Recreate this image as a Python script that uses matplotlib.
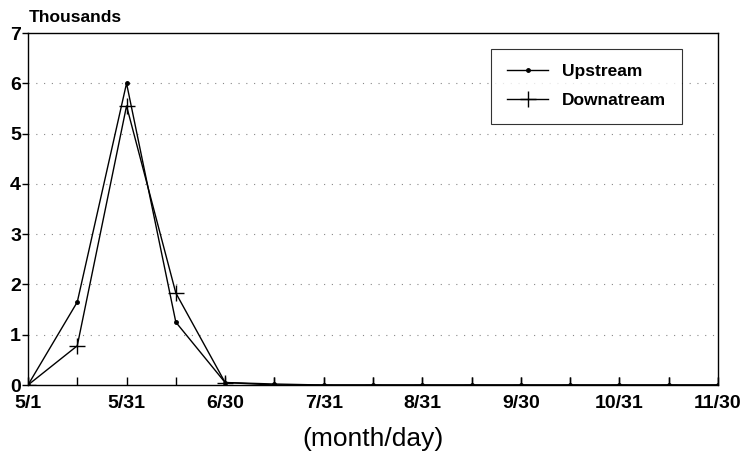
import matplotlib.pyplot as plt

# =========================
# Data (thousands, half-month steps from 5/1 to 11/30)
# =========================
tick_labels = ["5/1", "", "5/31", "", "6/30", "", "7/31", "", "8/31", "",
               "9/30", "", "10/31", "", "11/30"]
upstream = [0.0, 1.65, 6.0, 1.25, 0.05, 0.02, 0.0, 0.0, 0.0, 0.0,
            0.0, 0.0, 0.0, 0.0, 0.0]
downstream = [0.0, 0.78, 5.55, 1.83, 0.05, 0.0, 0.0, 0.0, 0.0, 0.0,
              0.0, 0.0, 0.0, 0.0, 0.0]

plt.rcParams["font.family"] = ["Liberation Sans", "DejaVu Sans"]

fig = plt.figure(figsize=(7.44, 4.51), dpi=100)
ax = fig.add_axes([0.0376, 0.1463, 0.9274, 0.7805])

x = list(range(len(tick_labels)))
ax.plot(x, upstream, color="black", lw=1.0, marker="o", markersize=2.5,
        label="Upstream")
ax.plot(x, downstream, color="black", lw=1.0, marker="+", markersize=11,
        markeredgewidth=1.0, label="Downatream")

ax.set_xlim(0, len(x) - 1)
ax.set_ylim(0, 7)
ax.set_xticks(x)
ax.set_xticklabels(tick_labels, fontsize=14, fontweight="bold")
ax.set_yticks(range(8))
ax.set_yticklabels([str(v) for v in range(8)], fontsize=14, fontweight="bold")
ax.tick_params(axis="x", direction="in", length=6, width=1, pad=7)
ax.tick_params(axis="y", direction="out", length=4, width=1, pad=1)

for v in range(1, 7):
    ax.axhline(v, color="#888888", lw=0.8, ls=(0, (1, 6)), zorder=0)

for s in ax.spines.values():
    s.set_linewidth(1.0)
    s.set_color("black")

ax.set_xlabel("(month/day)", fontsize=19, labelpad=11)
fig.text(0.038, 0.962, "Thousands", fontsize=12.5, fontweight="bold",
         ha="left", va="center")

leg = ax.legend(loc="upper right", bbox_to_anchor=(0.948, 0.956),
                frameon=True, fancybox=False,
                handlelength=2.4, borderpad=0.9, labelspacing=0.8,
                borderaxespad=0, prop={"weight": "bold", "size": 12.5})
leg.get_frame().set_edgecolor("black")
leg.get_frame().set_linewidth(0.8)

fig.savefig("out.png", dpi=100)
